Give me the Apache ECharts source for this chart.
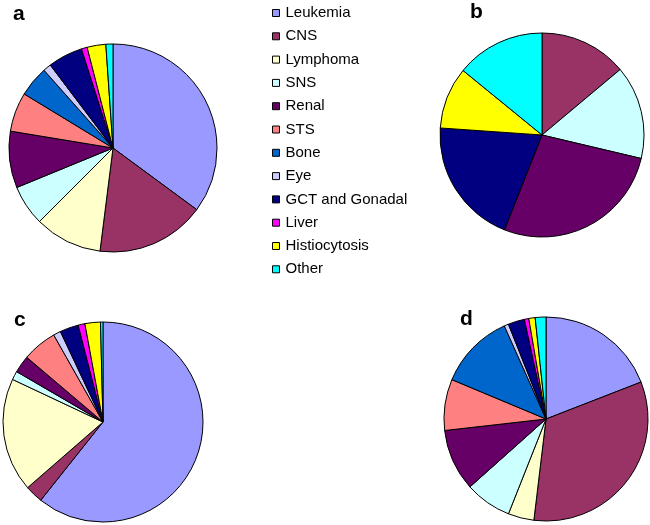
<!DOCTYPE html>
<html>
<head>
<meta charset="utf-8">
<script src="https://cdn.jsdelivr.net/npm/echarts@6/dist/echarts.min.js"></script>
<style>html,body{margin:0;padding:0;background:#fff;}#c{width:650px;height:525px;}</style>
</head>
<body>
<div id="c"></div>
<script>
const categories = ['Leukemia','CNS','Lymphoma','SNS','Renal','STS','Bone','Eye','GCT and Gonadal','Liver','Histiocytosis','Other'];
const colors = ['#9999FF','#993366','#FFFFCC','#CCFFFF','#660066','#FF8080','#0066CC','#CCCCFF','#000080','#FF00FF','#FFFF00','#00FFFF'];
const valuesA = [35.1, 16.9, 10.5, 6.3, 8.8, 6.1, 4.75, 1.25, 5.4, 0.9, 2.9, 1.1];
const valuesB = [0, 13.9, 0, 14.8, 27.3, 0, 0, 0, 20.1, 0, 9.8, 14.1];
const valuesC = [60.7, 2.9, 18.4, 1.4, 2.8, 5.6, 0, 1.2, 3.0, 1.1, 2.5, 0.4];
const valuesD = [19.1, 32.8, 4.1, 7.4, 9.8, 8.1, 12.0, 0.7, 2.6, 0.7, 1.0, 1.7];
const panelLabels = ['a','b','c','d'];

function buildData(vals){
  const out = [];
  vals.forEach((v,i)=>{ if(v>0) out.push({name:categories[i], value:v, itemStyle:{color:colors[i]}}); });
  return out;
}
const layout = [
  {center:[113,148], r:104, lx:13, ly:4},
  {center:[542,135], r:102, lx:470, ly:2},
  {center:[103,422], r:100, lx:14, ly:310},
  {center:[546,419], r:102, lx:460, ly:309}
];
const allVals = [valuesA, valuesB, valuesC, valuesD];

const chart = echarts.init(document.getElementById('c'), null, {renderer:'canvas'});
chart.setOption({
  animation:false,
  backgroundColor:'#fff',
  title: layout.map((L,i)=>({text:panelLabels[i], left:L.lx, top:L.ly, padding:0,
    textStyle:{fontFamily:'Liberation Sans, Arial, sans-serif', fontSize:21, fontWeight:'bold', color:'#000'}})),
  legend:{
    orient:'vertical', left:272, top:5, padding:0,
    data:categories, icon:'rect', itemWidth:7, itemHeight:7, itemGap:7.3,
    selectedMode:false,
    itemStyle:{borderColor:'#000', borderWidth:1},
    textStyle:{fontFamily:'Liberation Sans, Arial, sans-serif', fontSize:15, color:'#000', lineHeight:16, padding:[0,0,0,1]}
  },
  series: layout.map((L,i)=>({
    type:'pie', center:L.center, radius:[0,L.r], startAngle:90, clockwise:true,
    label:{show:false}, labelLine:{show:false}, silent:true,
    emphasis:{disabled:true},
    itemStyle:{borderColor:'#000', borderWidth:1},
    data: buildData(allVals[i])
  }))
});
</script>
</body>
</html>
